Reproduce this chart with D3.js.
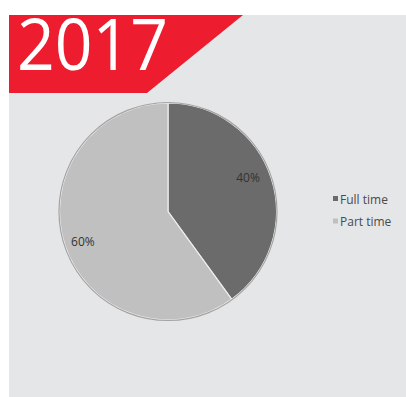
<!DOCTYPE html>
<html>
<head>
<meta charset="utf-8">
<script src="https://cdn.jsdelivr.net/npm/d3@7/dist/d3.min.js"></script>
<style>
  html, body { margin: 0; padding: 0; background: #ffffff; }
  svg { display: block; }
</style>
</head>
<body>
<script>
// Employment type share for the year
const year = "2017";
const categories = ["Full time", "Part time"];
const values = [40, 60];
const sliceColors = ["#6b6b6b", "#c0c0c0"];

const W = 406, H = 397;
const svg = d3.select("body").append("svg").attr("width", W).attr("height", H);

// Grey panel
svg.append("rect").attr("x", 9).attr("y", 15).attr("width", W - 9).attr("height", H - 15)
  .attr("fill", "#e5e6e8");

// Red year banner with slanted right edge
svg.append("path")
  .attr("d", "M9,15 L243,15 L147,93 L9,93 Z")
  .attr("fill", "#ed1c2e");
svg.append("text")
  .attr("x", 17).attr("y", 70)
  .attr("font-family", "'Open Sans', sans-serif")
  .attr("font-size", 72)
  .attr("fill", "#ffffff")
  .attr("textLength", 151)
  .attr("lengthAdjust", "spacingAndGlyphs")
  .text(year);

// Pie
const cx = 168, cy = 211.5, r = 108.5;
const pie = d3.pie().sort(null).value(d => d)(values);
const arc = d3.arc().innerRadius(0).outerRadius(r);
const g = svg.append("g").attr("transform", `translate(${cx},${cy})`);

g.selectAll("path.slice").data(pie).enter().append("path")
  .attr("class", "slice")
  .attr("d", arc)
  .attr("fill", (d, i) => sliceColors[i])
  .attr("stroke", "#eeeeee")
  .attr("stroke-width", 1.2);

g.append("circle").attr("r", r + 0.5)
  .attr("fill", "none").attr("stroke", "#a3a3a3").attr("stroke-width", 1.2);

// Percentage labels, placed at 80% of the radius with a small best-fit nudge
const labelArc = d3.arc().innerRadius(r * 0.8).outerRadius(r * 0.8);
const nudge = [[-2.5, -6.5], [-2.5, 3.5]];
g.selectAll("text.pct").data(pie).enter().append("text")
  .attr("class", "pct")
  .attr("transform", (d, i) => {
    const c = labelArc.centroid(d);
    return `translate(${c[0] + nudge[i][0]},${c[1] + nudge[i][1]})`;
  })
  .attr("text-anchor", "middle")
  .attr("dy", "0.35em")
  .attr("font-family", "'Open Sans', sans-serif")
  .attr("font-size", 12)
  .attr("fill", "#333333")
  .text(d => d.data + "%");

// Legend
const legend = svg.append("g").attr("transform", "translate(333,196)");
const rowH = 22.5;
categories.forEach((c, i) => {
  const row = legend.append("g").attr("transform", `translate(0,${i * rowH})`);
  row.append("rect").attr("x", 0).attr("y", 0).attr("width", 5).attr("height", 5)
    .attr("fill", sliceColors[i]);
  row.append("text").attr("x", 7).attr("y", 7.5)
    .attr("font-family", "'Open Sans', sans-serif")
    .attr("font-size", 12)
    .attr("fill", "#4a4a4a")
    .text(c);
});
</script>
</body>
</html>
